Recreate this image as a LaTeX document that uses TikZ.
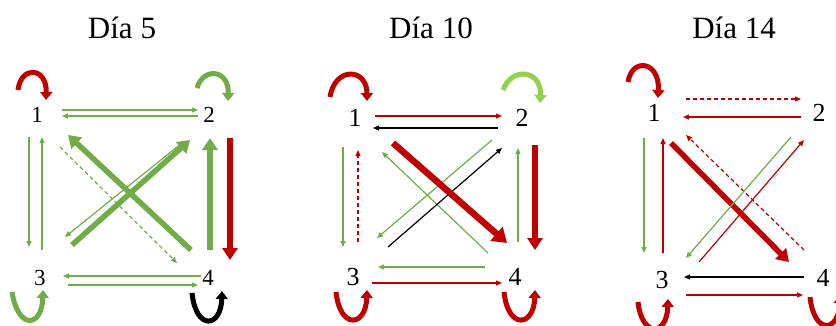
\documentclass[tikz,border=0pt]{standalone}
\usepackage{fontspec}
\setmainfont{Liberation Serif}
\usetikzlibrary{arrows.meta,calc}
\definecolor{gr}{HTML}{70AD47}
\definecolor{lg}{HTML}{92D050}
\definecolor{rd}{HTML}{C00000}
\begin{document}
\begin{tikzpicture}[x=1pt,y=-1pt,
  thinarr/.style={line width=1.2pt,-{Triangle[length=6pt,width=5pt]}},
  thickarr/.style={line width=5.5pt,-{Triangle[length=12pt,width=15pt]}},
  looparr/.style={line width=5pt,-{Triangle[length=8pt,width=12pt]}},
  dsh/.style={dash pattern=on 4pt off 3pt},
  numa/.style={font=\fontsize{23}{23}\selectfont, inner sep=0pt},
  numb/.style={font=\fontsize{26}{26}\selectfont, inner sep=0pt},
  ttl/.style={font=\fontsize{31}{31}\selectfont, inner sep=0pt}]
\useasboundingbox (0,0) rectangle (836,325);
% titles
\node[ttl] (t1) at (122,28) {Día 5};
\node[ttl] (t2) at (431,28) {Día 10};
\node[ttl] (t3) at (734,28) {Día 14};
% ---------- panel 1 ----------
\node[numa] (a1) at (37,115) {1};
\node[numa] (a2) at (209,115) {2};
\node[numa] (a3) at (40,278) {3};
\node[numa] (a4) at (208,278) {4};
\draw[thinarr,gr] ($(a1)+(25,-5)$) -- ($(a2)+(-11,-5)$);
\draw[thinarr,gr] ($(a2)+(-11,1)$) -- ($(a1)+(25,1)$);
\draw[thinarr,gr] ($(a1)+(-8,22)$) -- ($(a3)+(-11,-31)$);
\draw[thinarr,gr] ($(a3)+(2,-28)$) -- ($(a1)+(5,22)$);
\draw[thinarr,gr,dsh] ($(a1)+(23,32)$) -- ($(a4)+(-31,-15)$);
\draw[thinarr,gr] ($(a2)+(-27,28)$) -- ($(a3)+(25,-41)$);
\draw[thickarr,gr] ($(a4)+(-17,-28)$) -- ($(a1)+(31,20)$);
\draw[thickarr,gr] ($(a3)+(32,-33)$) -- ($(a2)+(-19,25)$);
\draw[thickarr,gr] ($(a4)+(2,-28)$) -- ($(a2)+(1,23)$);
\draw[thickarr,rd] ($(a2)+(21,23)$) -- ($(a4)+(22,-18)$);
\draw[thinarr,gr] ($(a4)+(-7,-2)$) -- ($(a3)+(23,-2)$);
\draw[thinarr,gr] ($(a3)+(28,7)$) -- ($(a4)+(-10,7)$);
\draw[looparr,rd] ($(a1)+(-19,-25)$) .. controls ($(a1)+(-16,-50)$) and ($(a1)+(10,-48)$) .. ($(a1)+(9,-15)$);
\draw[looparr,gr] ($(a2)+(-12,-27)$) .. controls ($(a2)+(-6,-48)$) and ($(a2)+(20,-46)$) .. ($(a2)+(19,-14)$);
\draw[looparr,gr] ($(a3)+(-28,14)$) .. controls ($(a3)+(-22,52)$) and ($(a3)+(2,50)$) .. ($(a3)+(3,12)$);
\draw[looparr,black] ($(a4)+(-16,15)$) .. controls ($(a4)+(-12,53)$) and ($(a4)+(13,50)$) .. ($(a4)+(14,13)$);
% ---------- panel 2 ----------
\node[numb] (b1) at (355,118) {1};
\node[numb] (b2) at (522,118) {2};
\node[numb] (b3) at (353,277) {3};
\node[numb] (b4) at (515,277) {4};
\draw[thinarr,rd] ($(b1)+(20,-2)$) -- ($(b2)+(-20,-2)$);
\draw[thinarr,black] ($(b2)+(-24,10)$) -- ($(b1)+(18,10)$);
\draw[thinarr,gr] ($(b1)+(-12,29)$) -- ($(b3)+(-10,-30)$);
\draw[thinarr,rd,dsh] ($(b3)+(5,-35)$) -- ($(b1)+(3,32)$);
\draw[thinarr,gr] ($(b4)+(-27,-24)$) -- ($(b1)+(27,34)$);
\draw[thinarr,black] ($(b3)+(35,-30)$) -- ($(b2)+(-20,30)$);
\draw[thinarr,gr] ($(b2)+(-30,22)$) -- ($(b3)+(24,-39)$);
\draw[thickarr,rd,line width=6.5pt,-{Triangle[length=14pt,width=18pt]}] ($(b1)+(38,25)$) -- ($(b4)+(-8,-34)$);
\draw[thinarr,gr] ($(b4)+(3,-35)$) -- ($(b2)+(-4,30)$);
\draw[thickarr,rd] ($(b2)+(13,27)$) -- ($(b4)+(20,-27)$);
\draw[thinarr,gr] ($(b4)+(-30,-10)$) -- ($(b3)+(25,-10)$);
\draw[thinarr,rd] ($(b3)+(19,6)$) -- ($(b4)+(-13,6)$);
\draw[looparr,rd] ($(b1)+(-25,-21)$) .. controls ($(b1)+(-20,-52)$) and ($(b1)+(12,-50)$) .. ($(b1)+(12,-17)$);
\draw[looparr,lg] ($(b2)+(-19,-28)$) .. controls ($(b2)+(-10,-52)$) and ($(b2)+(20,-48)$) .. ($(b2)+(18,-15)$);
\draw[looparr,rd] ($(b3)+(-17,15)$) .. controls ($(b3)+(-13,53)$) and ($(b3)+(13,50)$) .. ($(b3)+(14,13)$);
\draw[looparr,rd] ($(b4)+(-11,15)$) .. controls ($(b4)+(-7,53)$) and ($(b4)+(19,50)$) .. ($(b4)+(20,13)$);
% ---------- panel 3 ----------
\node[numb] (c1) at (654,113) {1};
\node[numb] (c2) at (819,113) {2};
\node[numb] (c3) at (662,280) {3};
\node[numb] (c4) at (823,278) {4};
\draw[thinarr,rd,dsh] ($(c1)+(32,-14)$) -- ($(c2)+(-18,-14)$);
\draw[thinarr,rd] ($(c2)+(-18,4)$) -- ($(c1)+(29,4)$);
\draw[thinarr,gr] ($(c1)+(-10,25)$) -- ($(c3)+(-18,-27)$);
\draw[thinarr,rd] ($(c3)+(1,-27)$) -- ($(c1)+(9,25)$);
\draw[thickarr,rd] ($(c1)+(17,30)$) -- ($(c4)+(-34,-16)$);
\draw[thinarr,rd,dsh] ($(c4)+(-19,-28)$) -- ($(c1)+(32,22)$);
\draw[thinarr,gr] ($(c2)+(-28,24)$) -- ($(c3)+(24,-22)$);
\draw[thinarr,rd] ($(c3)+(37,-18)$) -- ($(c2)+(-15,27)$);
\draw[thinarr,black] ($(c4)+(-19,-1)$) -- ($(c3)+(22,-3)$);
\draw[thinarr,rd] ($(c3)+(24,15)$) -- ($(c4)+(-20,17)$);
\draw[looparr,rd] ($(c1)+(-26,-31)$) .. controls ($(c1)+(-22,-56)$) and ($(c1)+(6,-52)$) .. ($(c1)+(4,-15)$);
\draw[looparr,rd] ($(c3)+(-24,22)$) .. controls ($(c3)+(-20,58)$) and ($(c3)+(5,56)$) .. ($(c3)+(6,19)$);
\draw[looparr,rd] ($(c4)+(-13,19)$) .. controls ($(c4)+(-9,57)$) and ($(c4)+(16,55)$) .. ($(c4)+(17,17)$);
\end{tikzpicture}
\end{document}
